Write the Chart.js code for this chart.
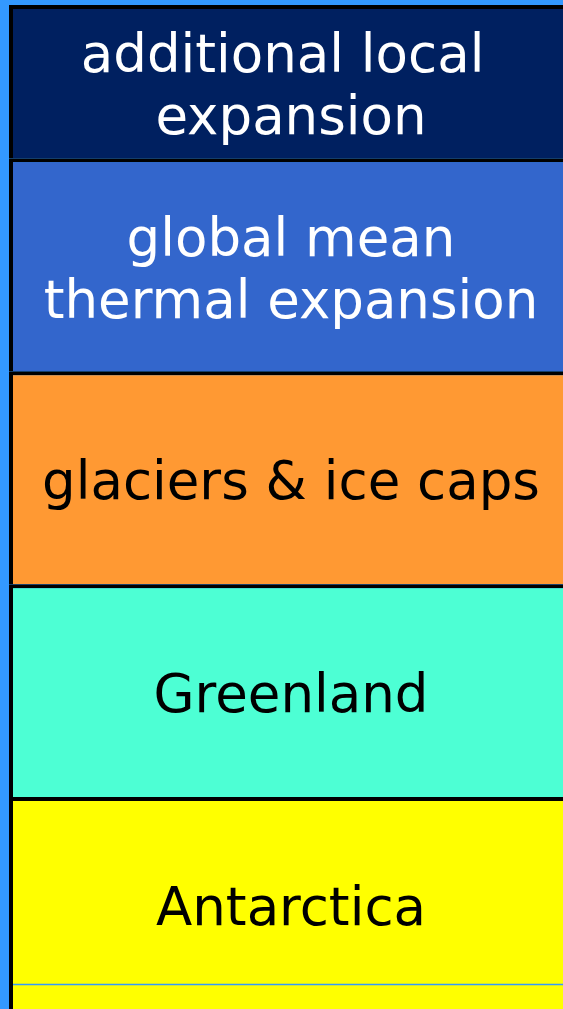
<!DOCTYPE html>
<html>
<head>
<meta charset="utf-8">
<script src="https://cdn.jsdelivr.net/npm/chart.js@4"></script>
<style>
  html, body { margin: 0; padding: 0; background: #3399ff; overflow: hidden; }
  #wrap { width: 580px; height: 1010px; }
</style>
</head>
<body>
<div id="wrap"><canvas id="budget"></canvas></div>
<script>
// Beiträge von unten nach oben gestapelt
const components = ['Antarctica', 'Greenland', 'glaciers & ice caps', 'global mean thermal expansion', 'additional local expansion'];
const componentLines = [
    ['Antarctica'],
    ['Greenland'],
    ['glaciers & ice caps'],
    ['global mean', 'thermal expansion'],
    ['additional local ', 'expansion']
];
const contributions = [10, 10, 10, 10, 7.2];
const referenceLevel = [1.2];

const fillColors = ['#ffff00', '#4dffd4', '#ff9933', '#3366cc', '#002060'];
const textColors = ['#000000', '#000000', '#000000', '#ffffff', '#ffffff'];

// Beschriftung mittig in jedem Segment
const segmentText = {
    id: 'segmentText',
    afterDatasetsDraw(chart) {
        const ctx = chart.ctx;
        const area = chart.chartArea;
        ctx.save();
        ctx.font = '53px "DejaVu Sans", Verdana, sans-serif';
        ctx.textAlign = 'center';
        ctx.textBaseline = 'middle';
        chart.data.datasets.forEach((ds, i) => {
            const bar = chart.getDatasetMeta(i).data[0];
            const top = Math.max(bar.y, area.top);
            const bottom = bar.base;
            const cy = (top + bottom) / 2 + 8;
            const lines = componentLines[i];
            const lh = 62;
            ctx.fillStyle = textColors[i];
            lines.forEach((t, k) => {
                ctx.fillText(t, bar.x, cy + (k - (lines.length - 1) / 2) * lh);
            });
        });
        ctx.restore();
    }
};

// dünne Bezugslinie über dem Balken
const referenceLine = {
    id: 'referenceLine',
    afterDatasetsDraw(chart) {
        const ctx = chart.ctx;
        const area = chart.chartArea;
        const yScale = chart.scales.y;
        ctx.save();
        ctx.strokeStyle = '#3399ff';
        ctx.lineWidth = 1.5;
        referenceLevel.forEach(v => {
            const y = Math.round(yScale.getPixelForValue(v)) + 0.5;
            ctx.beginPath();
            ctx.moveTo(area.left + 4, y);
            ctx.lineTo(area.right, y);
            ctx.stroke();
        });
        ctx.restore();
    }
};

const datasets = contributions.map((v, i) => ({
    label: components[i],
    data: [v],
    backgroundColor: fillColors[i],
    borderColor: '#000000',
    borderWidth: { top: 4, left: 4, right: 4, bottom: 0 },
    borderSkipped: false,
    inflateAmount: 0
}));

new Chart(document.getElementById('budget'), {
    type: 'bar',
    data: { labels: ['budget'], datasets },
    options: {
        responsive: true,
        maintainAspectRatio: false,
        animation: false,
        layout: { padding: { top: 5, left: 9, right: 7, bottom: 0 } },
        datasets: { bar: { barPercentage: 1, categoryPercentage: 1 } },
        scales: {
            x: { display: false, stacked: true },
            y: { display: false, stacked: true, min: 0, max: 47.2 }
        },
        plugins: { legend: { display: false }, tooltip: { enabled: false } }
    },
    plugins: [segmentText, referenceLine]
});
</script>
</body>
</html>
